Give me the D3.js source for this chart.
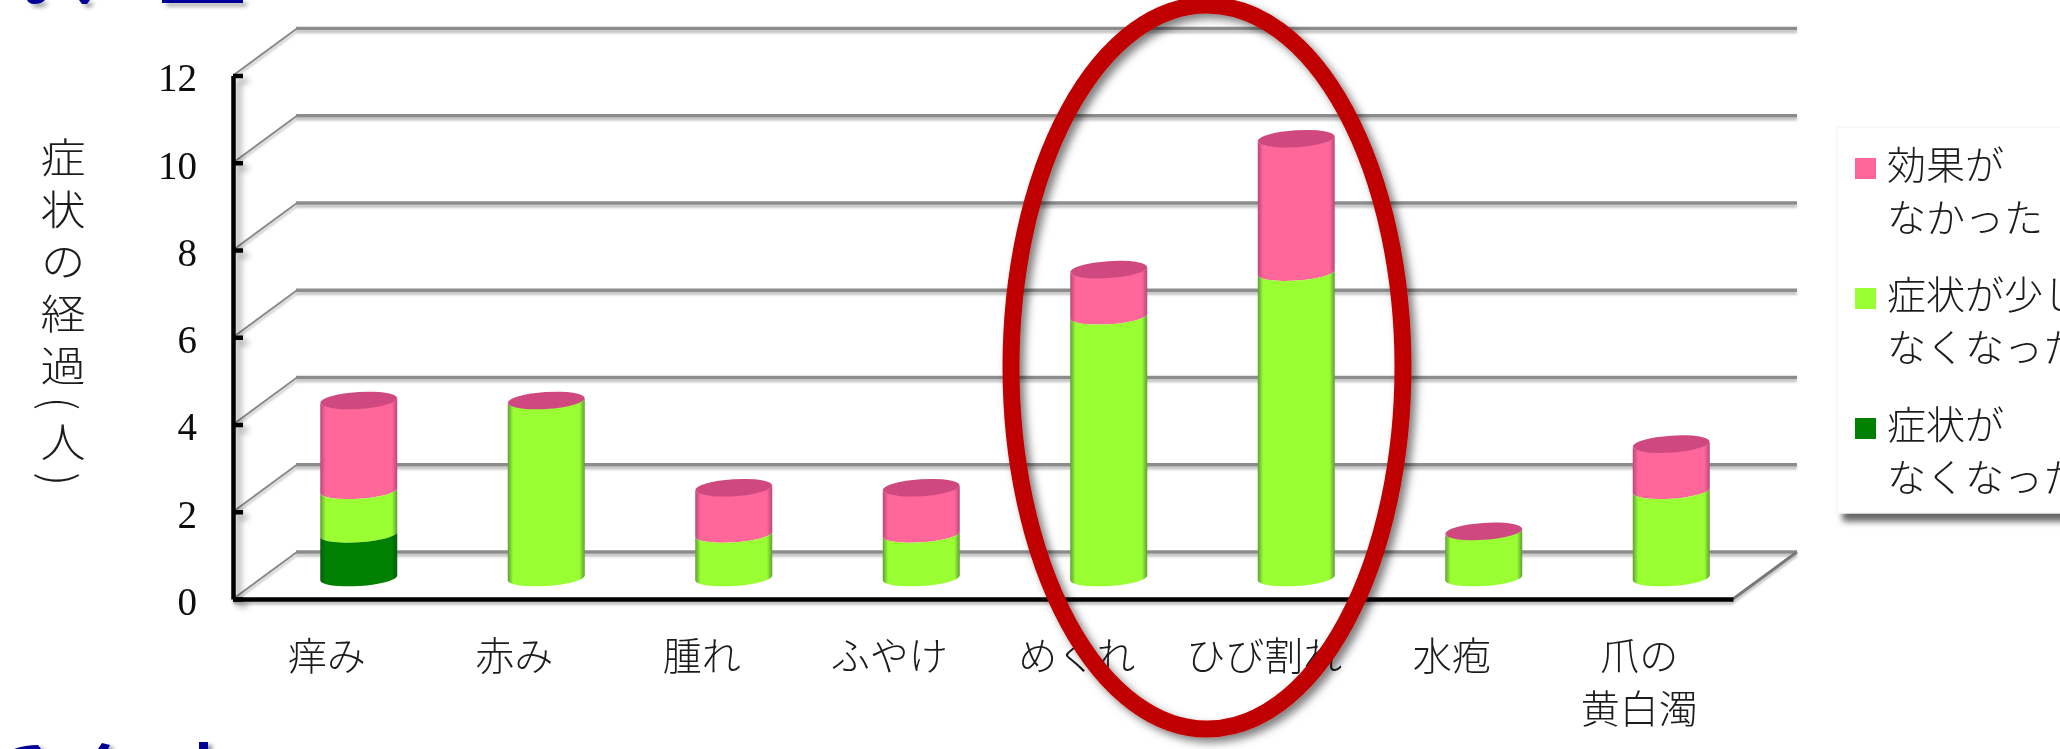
<!DOCTYPE html>
<html lang="ja">
<head>
<meta charset="utf-8">
<script src="https://cdn.jsdelivr.net/npm/d3@7/dist/d3.min.js"></script>
<style>
html,body{margin:0;padding:0;background:#fff;overflow:hidden}
svg{display:block}
.jp{font-family:"Noto Sans CJK JP","Noto Sans",sans-serif;font-weight:300;fill:#1c1c1c}
.num{font-family:"Liberation Serif",serif;fill:#111}
</style>
</head>
<body>
<script>
const categories = ["痒み","赤み","腫れ","ふやけ","めくれ","ひび割れ","水疱","爪の\n黄白濁"];
const symptomsGone = [1,0,0,0,0,0,0,0];
const symptomsLess = [1,4,1,1,6,7,1,2];
const noEffect     = [2,0,1,1,1,3,0,1];
const yTicks = [0,2,4,6,8,10,12];
const axisTitle = "症状の経過(人)";
const seriesNames = [["効果が","なかった"],["症状が少し","なくなった"],["症状が","なくなった"]];
const seriesColors = ["#FF6699","#99FF33","#008000"];
const edgeColors = ["#B8487A","#5F9E33","#0A5A12"];

const W = 2060, H = 749;
const svg = d3.select("body").append("svg").attr("width",W).attr("height",H);
const defs = svg.append("defs");

function region(f){
  return f.attr("filterUnits","userSpaceOnUse").attr("x",-3000).attr("y",-3000).attr("width",7000).attr("height",7000);
}
function shadow(id,dx,dy,sd,op){
  region(defs.append("filter").attr("id",id))
    .append("feDropShadow").attr("dx",dx).attr("dy",dy).attr("stdDeviation",sd).attr("flood-color","#000").attr("flood-opacity",op);
}
shadow("gridShadow",0,3,1,.24);
shadow("axisShadow",5,5,3,.35);
shadow("legendShadow",6,8,3,.6);
shadow("ringShadow",5,5,4,.5);
shadow("blueShadow",4,3,2,.45);
region(defs.append("filter").attr("id","soft")).append("feGaussianBlur").attr("stdDeviation",.7);
region(defs.append("filter").attr("id","softText")).append("feGaussianBlur").attr("stdDeviation",.35);

seriesColors.forEach((c,i)=>{
  const g = defs.append("linearGradient").attr("id","grad"+i).attr("x1",0).attr("x2",1).attr("y1",0).attr("y2",0);
  [[0,edgeColors[i]],[.07,c],[.93,c],[1,edgeColors[i]]].forEach(([o,col])=>g.append("stop").attr("offset",o).attr("stop-color",col));
});

// scales
const x = d3.scaleBand().domain(categories).range([233,1733]);
const y = d3.scaleLinear().domain([0,12]).range([599,75.5]);
const depthX = 64, depthY = -47;      // floor depth of the 3D box
const barY = v => y(v) + depthY/2 + 2.5;
const barW = 77, tilt = 2.5, ry = 8, capLift = 3;

// heading fragments cropped at the picture edges
const bluePieces = [
  "M27,0 H45 Q42,4 34,4 Q29,4 27,0Z","M79,0 H90 L87,4 H82Z",
  "M162,0 H243 V3 H162Z",
  "M14,749 Q25,745 38,745 L41,749Z","M98,749 L102,743 L110,745 L108,749Z","M199,749 V742 H208 V749Z"
];
svg.append("g").attr("filter","url(#blueShadow)").selectAll("path").data(bluePieces).join("path")
  .attr("d",d=>d).attr("fill","#000099");

// back wall grid lines + side wall diagonals
const grid = svg.append("g").attr("filter","url(#gridShadow)");
grid.selectAll("line.g").data(yTicks).join("line").attr("class","g")
  .attr("x1",x.range()[0]+depthX-1).attr("x2",x.range()[1]+depthX)
  .attr("y1",d=>y(d)+depthY).attr("y2",d=>y(d)+depthY)
  .attr("stroke","#8c8c8c").attr("stroke-width",3.5);
grid.selectAll("line.d").data(yTicks).join("line").attr("class","d")
  .attr("x1",x.range()[0]).attr("x2",x.range()[0]+depthX)
  .attr("y1",d=>y(d)).attr("y2",d=>y(d)+depthY)
  .attr("stroke","#8a8a8a").attr("stroke-width",2);
grid.append("line")
  .attr("x1",x.range()[1]).attr("x2",x.range()[1]+depthX)
  .attr("y1",y(0)).attr("y2",y(0)+depthY)
  .attr("stroke","#777").attr("stroke-width",3);

// y axis
const yAxis = svg.append("g").attr("filter","url(#axisShadow)").append("g")
  .attr("transform",`translate(${x.range()[0]},0)`)
  .call(d3.axisLeft(y).tickValues(yTicks).tickSizeInner(-10).tickSizeOuter(0).tickPadding(36));
yAxis.select(".domain").attr("stroke","#000").attr("stroke-width",4.5);
yAxis.selectAll(".tick line").attr("stroke","#000").attr("stroke-width",4.5);
yAxis.selectAll("text").remove();
const yLabels = svg.append("g").attr("filter","url(#softText)").append("g")
  .attr("transform",`translate(${x.range()[0]},3)`)
  .call(d3.axisLeft(y).tickValues(yTicks).tickSizeInner(0).tickSizeOuter(0).tickPadding(36));
yLabels.select(".domain").remove();
yLabels.selectAll(".tick line").remove();
yLabels.selectAll("text").attr("class","num").attr("font-size",39)
  .style("font-family","'Liberation Serif',serif").attr("fill","#111");

// x axis
const xAxis = svg.append("g").attr("filter","url(#gridShadow)").append("g")
  .attr("transform",`translate(0,${y(0)})`)
  .call(d3.axisBottom(x).tickSize(0).tickFormat(""));
xAxis.select(".domain").attr("stroke","#000").attr("stroke-width",4.5);
const xLabels = svg.append("g").attr("filter","url(#softText)").append("g")
  .attr("transform",`translate(0,${y(0)})`)
  .call(d3.axisBottom(x).tickSize(0).tickFormat(""));
xLabels.select(".domain").remove();
xLabels.selectAll(".tick").each(function(d){
  const t = d3.select(this).select("text").attr("class","jp").attr("font-size",39)
    .style("font-family","'Noto Sans CJK JP'").attr("text-anchor","middle").attr("y",0).attr("dy",0);
  d.split("\n").forEach((s,i)=>t.append("tspan").attr("x",0).attr("y",71+i*53).text(s));
});

// cylinders
function side(cx,v0,v1,lift){
  const l = cx-barW/2, r = cx+barW/2, rx = Math.hypot(barW/2,tilt), rot = -Math.atan2(tilt,barW/2)*180/Math.PI;
  const yb = barY(v0), yt = barY(v1)-lift;
  return `M${l},${yb+tilt} A${rx},${ry} ${rot} 0 0 ${r},${yb-tilt} L${r},${yt-tilt} A${rx},${ry} ${rot} 0 1 ${l},${yt+tilt} Z`;
}
const rows = categories.map((c,i)=>{
  const vals = [symptomsGone[i],symptomsLess[i],noEffect[i]];
  const cx = x(c)+x.bandwidth()/2+depthX/2;
  let base = 0;
  const segs = [];
  [2,1,0].forEach((colorIdx,k)=>{
    const v = vals[k];
    if(v>0) segs.push({cx,v0:base,v1:base+v,colorIdx});
    base += v;
  });
  segs[segs.length-1].top = true;
  return {c,cx,segs,total:base};
});
const bars = svg.append("g").attr("filter","url(#soft)");
const barG = bars.selectAll("g").data(rows).join("g");
barG.selectAll("path.seg").data(d=>d.segs.slice().reverse()).join("path").attr("class","seg")
  .attr("d",d=>side(d.cx,d.v0,d.v1,d.top?capLift:0))
  .attr("fill",d=>`url(#grad${d.colorIdx})`);
barG.append("ellipse").attr("class","cap")
  .attr("rx",barW/2).attr("ry",ry+.5)
  .attr("transform",d=>`translate(${d.cx},${barY(d.total)-capLift}) rotate(${-Math.atan2(tilt,barW/2)*180/Math.PI})`)
  .attr("fill","#CF4A80");

// axis title (vertical)
svg.append("g").attr("filter","url(#softText)").append("text").attr("class","jp")
  .attr("transform","translate(63,137) scale(1.1,1)")
  .attr("font-size",41)
  .style("writing-mode","vertical-rl").style("letter-spacing","11px")
  .text(axisTitle);

// legend
const legend = svg.append("g");
legend.append("rect").attr("x",1837).attr("y",127).attr("width",300).attr("height",386)
  .attr("fill","#fff").attr("stroke","#f4f4f4").attr("filter","url(#legendShadow)");
const lg = d3.scalePoint().domain(d3.range(3)).range([158,418]);
const item = legend.append("g").attr("filter","url(#softText)").selectAll("g.it").data(seriesNames).join("g").attr("class","it")
  .attr("transform",(d,i)=>`translate(1855,${lg(i)})`);
item.append("rect").attr("width",21).attr("height",21).attr("fill",(d,i)=>seriesColors[i]);
item.selectAll("text").data(d=>d).join("text").attr("class","jp")
  .attr("x",32).attr("y",(d,i)=>20.5+i*53).attr("font-size",39)
  .text(d=>d);

// red emphasis ring
svg.append("ellipse").attr("cx",1207).attr("cy",367).attr("rx",196).attr("ry",362)
  .attr("fill","none").attr("stroke","#C00000").attr("stroke-width",17).attr("filter","url(#ringShadow)");
</script>
</body>
</html>
